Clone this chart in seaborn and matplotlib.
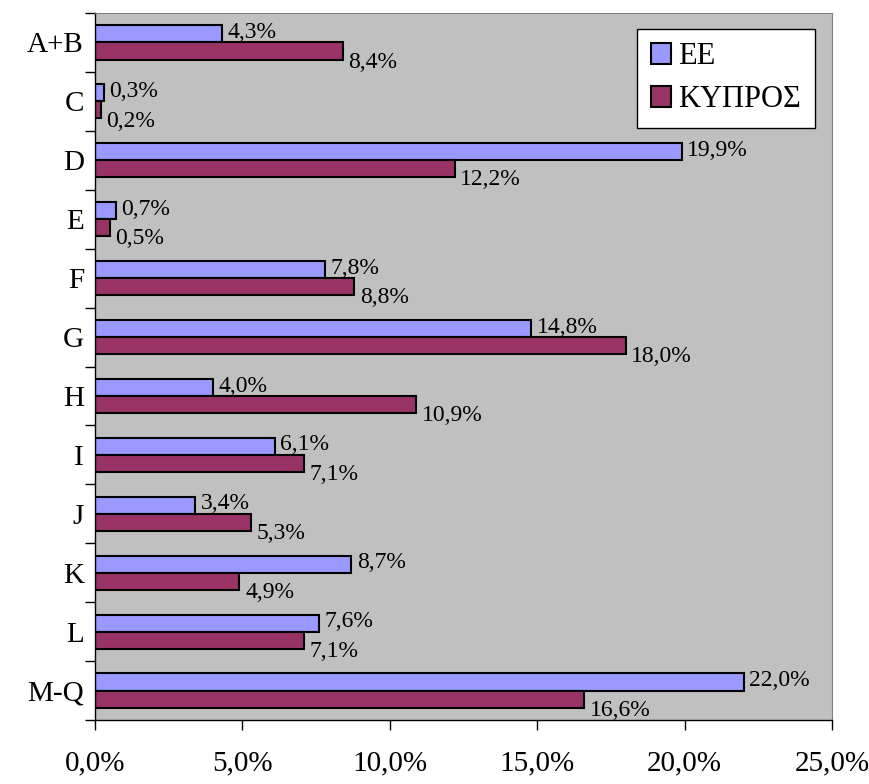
import matplotlib.pyplot as plt
import pandas as pd
import seaborn as sns
from matplotlib.ticker import FuncFormatter, FixedLocator

# Data
sectors = ["A+B", "C", "D", "E", "F", "G", "H", "I", "J", "K", "L", "M-Q"]
ee = [4.3, 0.3, 19.9, 0.7, 7.8, 14.8, 4.0, 6.1, 3.4, 8.7, 7.6, 22.0]
kypros = [8.4, 0.2, 12.2, 0.5, 8.8, 18.0, 10.9, 7.1, 5.3, 4.9, 7.1, 16.6]
series_names = ["ΕΕ", "ΚΥΠΡΟΣ"]
colors = ["#9999FF", "#993366"]

df = pd.DataFrame({
    "sector": sectors * 2,
    "value": ee + kypros,
    "series": [series_names[0]] * len(sectors) + [series_names[1]] * len(sectors),
})

sns.set_style("white")
plt.rcParams["font.family"] = ["Liberation Serif", "DejaVu Serif"]
plt.rcParams["text.color"] = "black"
plt.rcParams["xtick.color"] = "black"
plt.rcParams["ytick.color"] = "black"
plt.rcParams["axes.labelcolor"] = "black"

fig = plt.figure(figsize=(8.7, 7.84), dpi=100)
ax = fig.add_axes([95 / 870, 1 - 720 / 784, (832 - 95) / 870, (720 - 13) / 784])
ax.set_facecolor("#C0C0C0")

sns.barplot(data=df, x="value", y="sector", hue="series", orient="h",
            palette=colors, saturation=1, order=sectors, hue_order=series_names,
            width=0.58, edgecolor="black", linewidth=1.5, ax=ax)

# Data labels
offsets = [(4, 1), (4, -8)]
for container, (dx, dy) in zip(ax.containers, offsets):
    for bar in container:
        v = bar.get_width()
        ax.annotate(f"{v:.1f}%".replace(".", ","),
                    xy=(v, bar.get_y() + bar.get_height() / 2),
                    xytext=(dx, dy), textcoords="offset points",
                    ha="left", va="center", fontsize=17, color="black")

# Axes formatting
ax.set_xlim(0, 25)
ax.set_ylim(len(sectors) - 0.5, -0.5)
ax.set_xticks([0, 5, 10, 15, 20, 25])
ax.xaxis.set_major_formatter(FuncFormatter(lambda x, p: f"{x:.1f}%".replace(".", ",")))
ax.tick_params(axis="x", direction="out", length=7, width=1, pad=15, labelsize=21, bottom=True)
ax.yaxis.set_minor_locator(FixedLocator([i - 0.5 for i in range(len(sectors) + 1)]))
ax.tick_params(axis="y", which="major", length=0, pad=8, labelsize=21)
ax.tick_params(axis="y", which="minor", direction="out", length=7, width=1, left=True)
ax.set_xlabel("")
ax.set_ylabel("")

for side in ["left", "bottom"]:
    ax.spines[side].set_color("black")
    ax.spines[side].set_linewidth(1)
for side in ["top", "right"]:
    ax.spines[side].set_visible(True)
    ax.spines[side].set_color("#808080")

leg = ax.legend(loc="upper right", bbox_to_anchor=(0.977, 0.978), fontsize=22,
                frameon=True, fancybox=False, edgecolor="black", framealpha=1,
                handlelength=0.65, handleheight=0.65, handletextpad=0.25,
                borderpad=0.45, labelspacing=0.45, borderaxespad=0)
leg.get_frame().set_linewidth(1)

fig.savefig("out.png", dpi=100)
